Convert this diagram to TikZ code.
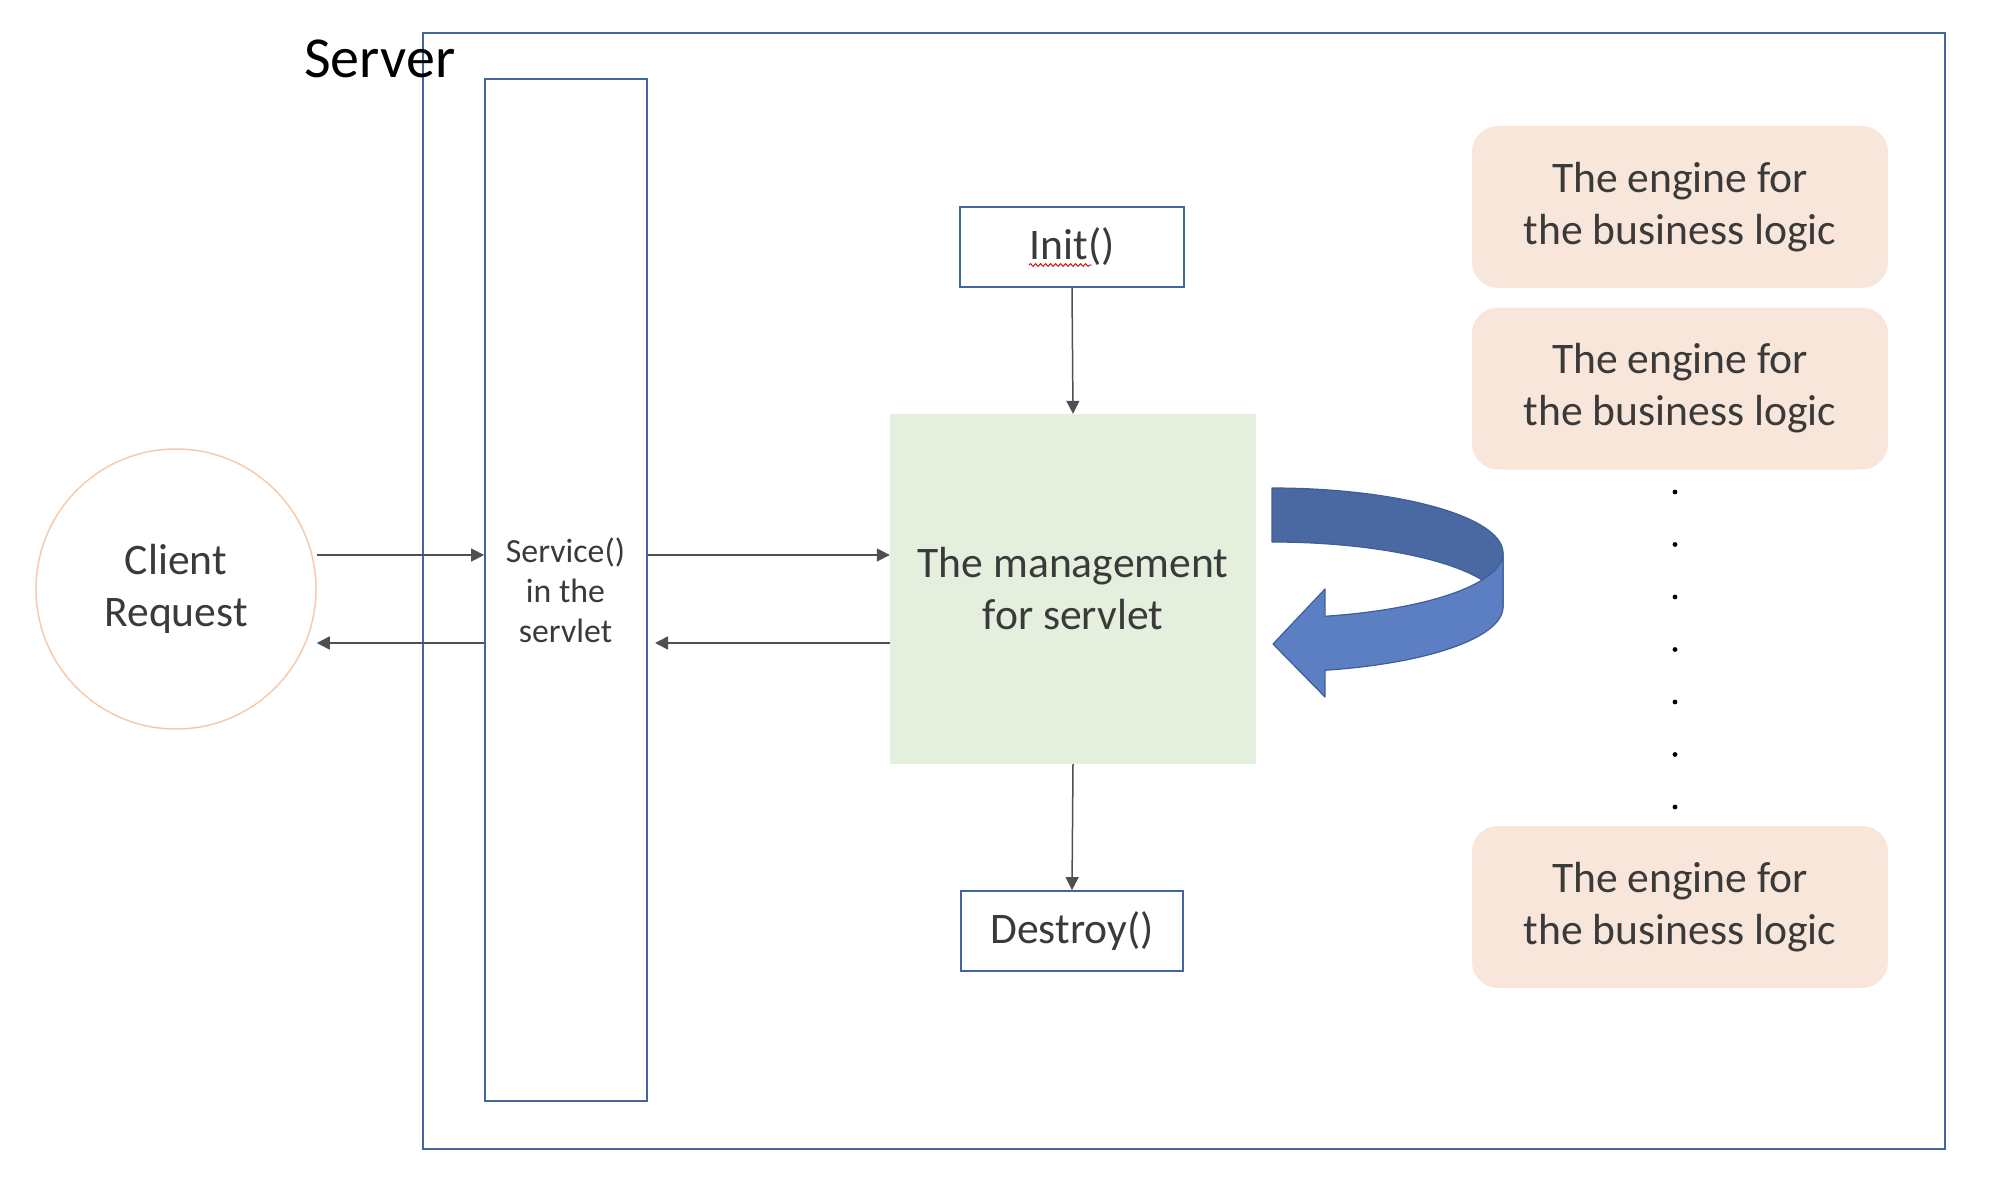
\documentclass[tikz,border=0pt]{standalone}
\usepackage{fontspec}
\setmainfont{Carlito}
\usetikzlibrary{arrows.meta,decorations.pathmorphing}
\definecolor{boxblue}{RGB}{68,100,160}
\definecolor{arrgray}{RGB}{80,80,80}
\definecolor{txtgray}{RGB}{58,58,58}
\definecolor{mgmtfill}{RGB}{228,239,221}
\definecolor{enginefill}{RGB}{249,230,218}
\definecolor{circlecol}{RGB}{246,203,172}
\definecolor{arrowdark}{RGB}{74,104,162}
\definecolor{arrowlight}{RGB}{92,127,196}
\definecolor{arrowline}{RGB}{62,94,152}
\begin{document}
\begin{tikzpicture}[x=1pt,y=-1pt,
  bluebox/.style={draw=boxblue,line width=1.8pt,rectangle,inner sep=0pt},
  arr/.style={draw=arrgray,line width=1.5pt,-{Triangle[length=13pt,width=13pt]}},
  bigtxt/.style={font=\fontsize{43.6}{52}\selectfont,text=txtgray,align=center},
  engine/.style={rectangle,rounded corners=26pt,fill=enginefill,minimum width=416pt,minimum height=162pt,inner sep=0pt,bigtxt},
  ribbon/.style={draw=arrowline,line width=1.2pt,line join=round}
]
\useasboundingbox (0,0) rectangle (1990,1188);
% server frame
\node[bluebox,minimum width=1522pt,minimum height=1116pt] (server) at (1184,591) {};
\node[anchor=base west,inner sep=0pt,font=\fontsize{58}{69}\selectfont,text=black] (serverlbl) at (304,78) {Server};
% service column
\node[bluebox,minimum width=162pt,minimum height=1022pt] (service) at (566,590) {};
\node[font=\fontsize{33.8}{40}\selectfont,text=txtgray,align=center] (servicetxt) at (565.5,590) {Service()\\in the\\servlet};
% client
\node[circle,draw=circlecol,line width=1.5pt,minimum size=280pt,inner sep=0pt,bigtxt] (client) at (176,589) {Client\\Request};
% lifecycle
\node[bluebox,minimum width=224pt,minimum height=80pt,bigtxt] (init) at (1072,247) {Init()};
\node[rectangle,fill=mgmtfill,minimum width=366pt,minimum height=350pt,inner sep=0pt,bigtxt] (mgmt) at (1073,589) {The management\\for servlet};
\node[bluebox,minimum width=222pt,minimum height=80pt,bigtxt] (destroy) at (1072,931) {Destroy()};
% spell-check squiggle
\draw[red!85!black,line width=0.9pt,decorate,decoration={snake,amplitude=1.4pt,segment length=5pt}] (1029,265) -- (1092,265);
% engines
\node[engine] (eng1) at (1680,207) {The engine for\\the business logic};
\node[engine] (eng2) at (1680,388.5) {The engine for\\the business logic};
\node[engine] (eng3) at (1680,907) {The engine for\\the business logic};
\foreach \k in {0,...,6} \fill[black] (1675,{492+52.5*\k}) circle (2.4pt);
% connectors
\coordinate (ya) at (0,555);
\coordinate (yb) at (0,643);
\coordinate (backtip) at (655,643);
\draw[arr] (client.east |- ya) -- (service.west |- ya);
\draw[arr] (service.west |- yb) -- (client.east |- yb);
\draw[arr] (service.east |- ya) -- (mgmt.west |- ya);
\draw[arr] (mgmt.west |- yb) -- (backtip);
\draw[arr] (init.south) -- (mgmt.north);
\draw[arr] (mgmt.south) -- (destroy.north);
% curved 3D arrow
\draw[ribbon,fill=arrowdark] plot[domain=90:0,samples=60] ({1272+231*cos(\x)},{553-65*sin(\x)}) -- (1503,607) -- plot[domain=0:90,samples=60] ({1272+231*cos(\x)},{607-65*sin(\x)}) -- cycle;
\draw[ribbon,fill=arrowlight] plot[domain=-76.7:0,samples=60] ({1272+231*cos(\x)},{553-65*sin(\x)}) -- (1503,607) -- plot[domain=0:-76.7,samples=60] ({1272+231*cos(\x)},{607-65*sin(\x)}) -- (1325,697) -- (1273,644) -- (1325,589) -- cycle;
\end{tikzpicture}
\end{document}
